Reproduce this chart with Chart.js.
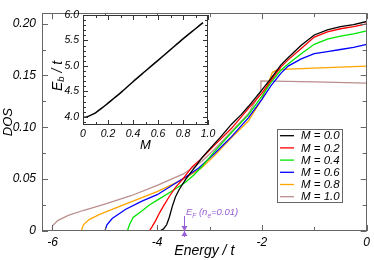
<!DOCTYPE html>
<html><head><meta charset="utf-8">
<script src="https://cdn.jsdelivr.net/npm/chart.js@4"></script>
<style>
html,body{margin:0;padding:0;background:#fff;}
#wrap{position:relative;width:374px;height:260px;overflow:hidden;}
canvas{position:absolute;left:0;top:0;}
</style></head>
<body>
<div id="wrap">
<canvas id="main" width="374" height="260"></canvas>
<canvas id="inset" width="374" height="260"></canvas>
</div>
<script>
// ---------- data ----------
const seriesLabels = ['M = 0.0','M = 0.2','M = 0.4','M = 0.6','M = 0.8','M = 1.0'];
const seriesColors = ['#000000','#ff0000','#00e600','#0000ff','#ffa500','#bc8f8f'];

const energyM00 = [-6,-3.95,-3.88,-3.82,-3.77,-3.71,-3.65,-3.58,-3.46,-3.35,-3.27,-3.14,-3.0,-2.8,-2.58,-2.4,-2.26,-2.0,-1.83,-1.64,-1.5,-1.25,-1.0,-0.75,-0.5,-0.25,0];
const dosM00    = [0,0,0.002,0.006,0.013,0.024,0.033,0.040,0.0496,0.057,0.062,0.071,0.079,0.090,0.103,0.112,0.120,0.136,0.147,0.160,0.167,0.179,0.189,0.194,0.197,0.199,0.202];

const energyM02 = [-6,-4.15,-4.1,-4.03,-3.95,-3.87,-3.76,-3.65,-3.52,-3.33,-3.15,-2.9,-2.58,-2.26,-2.0,-1.83,-1.64,-1.5,-1.25,-1.0,-0.75,-0.5,-0.25,0];
const dosM02    = [0,0,0.004,0.010,0.018,0.025,0.034,0.042,0.0496,0.062,0.070,0.083,0.099,0.118,0.133,0.145,0.158,0.165,0.176,0.187,0.192,0.195,0.197,0.1996];

const energyM04 = [-6,-4.57,-4.53,-4.46,-4.3,-4.15,-3.96,-3.7,-3.46,-3.3,-3.15,-2.9,-2.58,-2.26,-2.0,-1.83,-1.64,-1.5,-1.25,-1.0,-0.75,-0.5,-0.25,0];
const dosM04    = [0,0,0.006,0.013,0.019,0.025,0.031,0.039,0.047,0.054,0.062,0.077,0.095,0.112,0.130,0.143,0.155,0.161,0.171,0.180,0.185,0.188,0.190,0.193];

const energyM06 = [-6,-5.0,-4.96,-4.86,-4.6,-4.28,-4.0,-3.65,-3.4,-3.2,-2.9,-2.58,-2.26,-2.0,-1.83,-1.64,-1.5,-1.25,-1.0,-0.75,-0.5,-0.25,0];
const dosM06    = [0,0,0.006,0.012,0.021,0.029,0.035,0.046,0.054,0.061,0.075,0.091,0.109,0.127,0.140,0.152,0.159,0.166,0.171,0.173,0.175,0.177,0.180];

const energyM08 = [-6,-5.45,-5.41,-5.3,-5.1,-4.8,-4.5,-4.0,-3.5,-3.15,-2.9,-2.58,-2.26,-2.0,-1.9,-1.8,-1.72,-1.5,-1.0,-0.5,0];
const dosM08    = [0,0,0.006,0.011,0.016,0.022,0.028,0.038,0.050,0.061,0.073,0.090,0.106,0.127,0.140,0.153,0.155,0.156,0.157,0.158,0.159];

const energyM10 = [-6,-6,-5.9,-5.7,-5.4,-5.0,-4.5,-4.0,-3.5,-3.15,-2.9,-2.6,-2.26,-2.03,-2.02,-1.0,0];
const dosM10    = [0,0.005,0.010,0.015,0.020,0.026,0.034,0.044,0.055,0.067,0.079,0.095,0.113,0.1335,0.1447,0.1437,0.1426];

const xTickLabels = [-6,-4,-2,0];
const xMinorTicks = [-6,-5,-4,-3,-2,-1,0];
const yTickLabels = [0,0.05,0.1,0.15,0.2];
const yMinorTicks = [0,0.025,0.05,0.075,0.1,0.125,0.15,0.175,0.2];

const fermiEnergy = -3.49;

// inset
const insetM  = [0,0.03,0.06,0.1,0.15,0.2,0.25,0.3,0.4,0.5,0.6,0.7,0.8,0.9,0.96];
const insetEb = [3.99,4.0,4.03,4.08,4.17,4.27,4.37,4.47,4.69,4.90,5.11,5.32,5.53,5.73,5.85];
const insetXTickLabels = [0,0.2,0.4,0.6,0.8,1];
const insetXMinor = [0,0.1,0.2,0.3,0.4,0.5,0.6,0.7,0.8,0.9,1];
const insetYTickLabels = [4,4.5,5,5.5,6];
const insetYMinor = [3.9,4,4.1,4.2,4.3,4.4,4.5,4.6,4.7,4.8,4.9,5,5.1,5.2,5.3,5.4,5.5,5.6,5.7,5.8,5.9,6];

// ---------- helpers ----------
const FAM = '"Liberation Sans", Arial, Helvetica, sans-serif';
const pts = (xs, ys) => xs.map((x, i) => ({x, y: ys[i]}));
const mainData = [
  pts(energyM00, dosM00), pts(energyM02, dosM02), pts(energyM04, dosM04),
  pts(energyM06, dosM06), pts(energyM08, dosM08), pts(energyM10, dosM10)
];

const framePlugin = {
  id: 'frame',
  beforeDatasetsDraw(chart, args, o) {
    if (!o.fill) return;
    const {ctx, chartArea: a} = chart;
    ctx.save(); ctx.fillStyle = o.fill;
    ctx.fillRect(a.left, a.top, a.right - a.left, a.bottom - a.top);
    ctx.restore();
  },
  afterDatasetsDraw(chart, args, o) {
    const {ctx, chartArea: a, scales: {x, y}} = chart;
    ctx.save();
    ctx.strokeStyle = o.color; ctx.lineWidth = 1;
    ctx.strokeRect(Math.round(a.left) + 0.5, Math.round(a.top) + 0.5,
      Math.round(a.right - a.left) - 1, Math.round(a.bottom - a.top) - 1);
    ctx.beginPath();
    o.xMinor.forEach(v => {
      const p = Math.round(x.getPixelForValue(v)) + 0.5;
      const L = o.xMajor.some(m => Math.abs(m - v) < 1e-9) ? o.major : o.minor;
      ctx.moveTo(p, a.bottom); ctx.lineTo(p, a.bottom - L);
      ctx.moveTo(p, a.top); ctx.lineTo(p, a.top + L);
    });
    o.yMinor.forEach(v => {
      const p = Math.round(y.getPixelForValue(v)) + 0.5;
      const L = o.yMajor.some(m => Math.abs(m - v) < 1e-9) ? o.major : o.minor;
      ctx.moveTo(a.left, p); ctx.lineTo(a.left + L, p);
      ctx.moveTo(a.right, p); ctx.lineTo(a.right - L, p);
    });
    ctx.stroke();
    ctx.restore();
  }
};

const fermiPlugin = {
  id: 'fermi',
  afterDraw(chart, args, o) {
    const {ctx, scales: {x, y}} = chart;
    const xp = Math.round(x.getPixelForValue(fermiEnergy)) + 0.5;
    const y0 = y.getPixelForValue(0);
    ctx.save();
    ctx.strokeStyle = o.color; ctx.fillStyle = o.color; ctx.lineWidth = 1;
    ctx.beginPath(); ctx.moveTo(xp, y0 - 15); ctx.lineTo(xp, y0 + 6); ctx.stroke();
    ctx.beginPath(); ctx.moveTo(xp - 3, y0 - 5); ctx.lineTo(xp + 3, y0 - 5); ctx.lineTo(xp, y0); ctx.closePath(); ctx.fill();
    ctx.beginPath(); ctx.moveTo(xp - 3, y0 + 5); ctx.lineTo(xp + 3, y0 + 5); ctx.lineTo(xp, y0); ctx.closePath(); ctx.fill();
    const big = 'italic 9.5px ' + FAM, small = 'italic 6.5px ' + FAM;
    let cx = xp + 1.5; const by = y0 - 16;
    const parts = [['E', big, 0], ['F', small, 2.5], [' (n', big, 0], ['e', small, 2.5], ['=0.01)', big, 0]];
    ctx.textBaseline = 'alphabetic'; ctx.textAlign = 'left';
    parts.forEach(([t, f, dy]) => { ctx.font = f; ctx.fillText(t, cx, by + dy); cx += ctx.measureText(t).width; });
    ctx.restore();
  }
};

// legend box drawn from the chart's own datasets
const boxLegendPlugin = {
  id: 'boxLegend',
  afterDraw(chart, args, o) {
    const {ctx} = chart;
    const ds = chart.data.datasets;
    ctx.save();
    ctx.fillStyle = '#fff';
    ctx.fillRect(o.x, o.y, o.w, o.h);
    ctx.strokeStyle = '#666'; ctx.lineWidth = 1;
    ctx.strokeRect(o.x + 0.5, o.y + 0.5, o.w - 1, o.h - 1);
    ctx.font = 'italic 11.5px ' + FAM;
    ctx.textBaseline = 'middle'; ctx.textAlign = 'left';
    ds.forEach((d, i) => {
      const cy = o.y + 6.7 + o.rowH * i;
      ctx.strokeStyle = d.borderColor; ctx.lineWidth = 1.3;
      ctx.beginPath(); ctx.moveTo(o.x + 3, cy); ctx.lineTo(o.x + 17, cy); ctx.stroke();
      ctx.fillStyle = '#000';
      ctx.fillText(d.label, o.x + 24, cy + 0.5);
    });
    ctx.restore();
  }
};

const insetTitlePlugin = {
  id: 'insetTitle',
  afterDraw(chart, args, o) {
    const {ctx} = chart;
    const big = 'italic 14px ' + FAM, small = 'italic 9.5px ' + FAM;
    const parts = [['E', big, 0], ['b', small, 3.5], [' / t', big, 0]];
    ctx.save();
    let w = 0;
    parts.forEach(([t, f]) => { ctx.font = f; w += ctx.measureText(t).width; });
    ctx.translate(o.x, o.y); ctx.rotate(-Math.PI / 2);
    ctx.fillStyle = '#000'; ctx.textBaseline = 'middle'; ctx.textAlign = 'left';
    let cx = -w / 2;
    parts.forEach(([t, f, dy]) => { ctx.font = f; ctx.fillText(t, cx, dy); cx += ctx.measureText(t).width; });
    ctx.restore();
  }
};

// ---------- main chart ----------
new Chart(document.getElementById('main'), {
  type: 'line',
  data: {
    datasets: mainData.map((d, i) => ({
      label: seriesLabels[i], data: d, borderColor: seriesColors[i],
      borderWidth: 1.3, pointRadius: 0, tension: 0, fill: false
    }))
  },
  options: {
    responsive: false, animation: false, devicePixelRatio: 1,
    layout: {padding: {top: 1, right: 4, left: 0, bottom: 0}},
    plugins: {
      legend: {display: false}, tooltip: {enabled: false},
      frame: {color: '#666', xMinor: xMinorTicks, xMajor: xTickLabels, yMinor: yMinorTicks, yMajor: yTickLabels, major: 6, minor: 4},
      fermi: {color: '#9a5fd6'},
      boxLegend: {x: 277, y: 129, w: 66, h: 74, rowH: 12.2}
    },
    scales: {
      x: {
        type: 'linear', min: -6.2, max: 0,
        grid: {display: false, drawTicks: false}, border: {display: false},
        afterBuildTicks: s => { s.ticks = xTickLabels.map(v => ({value: v})); },
        afterFit: s => { s.height = 29; },
        ticks: {color: '#000', font: {family: FAM, style: 'italic', size: 12}, padding: 4, maxRotation: 0, autoSkip: false},
        title: {display: true, text: 'Energy / t', color: '#000', font: {family: FAM, style: 'italic', size: 14}, padding: {top: 0, bottom: 0}}
      },
      y: {
        type: 'linear', min: 0, max: 0.21,
        grid: {display: false, drawTicks: false}, border: {display: false},
        afterBuildTicks: s => { s.ticks = yTickLabels.map(v => ({value: v})); },
        afterFit: s => { s.width = 42; },
        ticks: {color: '#000', font: {family: FAM, style: 'italic', size: 12}, padding: 6},
        title: {display: true, text: 'DOS', color: '#000', font: {family: FAM, style: 'italic', size: 13}, padding: {top: 1, bottom: 0}}
      }
    }
  },
  plugins: [framePlugin, fermiPlugin, boxLegendPlugin]
});

// ---------- inset chart ----------
new Chart(document.getElementById('inset'), {
  type: 'line',
  data: {datasets: [{data: pts(insetM, insetEb), borderColor: '#000', borderWidth: 1.5, pointRadius: 0, tension: 0.3, fill: false}]},
  options: {
    responsive: false, animation: false, devicePixelRatio: 1,
    layout: {padding: {top: 15, left: 40, right: 166, bottom: 107}},
    plugins: {
      legend: {display: false}, tooltip: {enabled: false},
      frame: {color: '#333', fill: '#fff', xMinor: insetXMinor, xMajor: insetXTickLabels, yMinor: insetYMinor, yMajor: insetYTickLabels, major: 5, minor: 3},
      insetTitle: {x: 58, y: 76}
    },
    scales: {
      x: {
        type: 'linear', min: 0, max: 1,
        grid: {display: false, drawTicks: false}, border: {display: false},
        afterBuildTicks: s => { s.ticks = insetXTickLabels.map(v => ({value: v})); },
        afterFit: s => { s.height = 28; },
        ticks: {color: '#000', font: {family: FAM, style: 'italic', size: 10.5}, padding: 3, maxRotation: 0, autoSkip: false},
        title: {display: true, text: 'M', color: '#000', font: {family: FAM, style: 'italic', size: 13}, padding: {top: 0, bottom: 0}}
      },
      y: {
        type: 'linear', min: 3.84, max: 6,
        grid: {display: false, drawTicks: false}, border: {display: false},
        afterBuildTicks: s => { s.ticks = insetYTickLabels.map(v => ({value: v})); },
        afterFit: s => { s.width = 43; },
        ticks: {color: '#000', font: {family: FAM, style: 'italic', size: 10.5}, padding: 4},
        title: {display: false}
      }
    }
  },
  plugins: [framePlugin, insetTitlePlugin]
});
</script>
</body></html>
